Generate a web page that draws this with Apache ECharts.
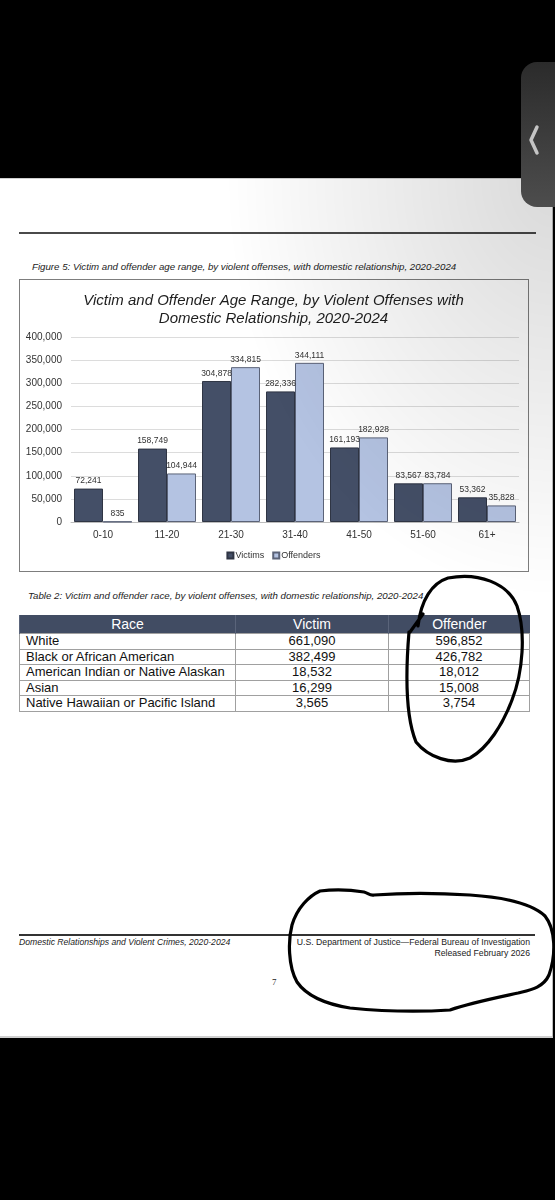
<!DOCTYPE html>
<html>
<head>
<meta charset="utf-8">
<script src="https://cdn.jsdelivr.net/npm/echarts@6/dist/echarts.min.js"></script>
<style>
  html, body { margin:0; padding:0; background:#000; width:555px; height:1200px; overflow:hidden; }
  body { position:relative; font-family:"Liberation Sans", Arial, sans-serif; }
  #page { position:absolute; left:0; top:178px; width:553px; height:860px; background:#fff; border-right:1.5px solid #bdbdbd; border-top:1px solid #cfcfcf; border-bottom:2px solid #cfcfcf; box-sizing:border-box; }
  .abs { position:absolute; }
  .cap { font-style:italic; color:#222; white-space:nowrap; }
  #box { position:absolute; left:19px; top:279px; width:510px; height:293px; border:1.5px solid #7d7d7d; box-sizing:border-box; background:#fff; }
  #chart { position:absolute; left:0; top:0; width:507px; height:290px; }
  #tbl { position:absolute; left:19px; top:615px; border-collapse:collapse; table-layout:fixed; width:510px; font-size:13px; color:#111; }
  #tbl th { background:#414c63; color:#fff; font-weight:normal; height:18px; padding:0; line-height:18px; font-size:14px; border-left:1px solid #5a647a; }
  #tbl td { height:14.6px; line-height:14.6px; padding:0; border:1px solid #a0a0a0; white-space:nowrap; overflow:hidden; }
  #tbl td.l { text-align:left; padding-left:6px; }
  #tbl td.c { text-align:center; }
  #shade { position:absolute; left:0; top:178px; width:555px; height:860px; pointer-events:none;
    background: radial-gradient(ellipse 330px 420px at 555px 0px, rgba(0,0,0,0.15), rgba(0,0,0,0) 100%); }
  #tab { position:absolute; left:521px; top:62px; width:40px; height:145px; border-radius:16px 0 0 16px;
    background:linear-gradient(#2b2b2b, #4d4d4d); }
  svg { position:absolute; left:0; top:0; }
</style>
</head>
<body>
<div id="page"></div>

<div class="abs" style="left:19px; top:232px; width:517px; height:1.5px; background:#4a4a4a;"></div>
<div class="abs cap" style="left:32px; top:261px; font-size:9.7px;">Figure 5: Victim and offender age range, by violent offenses, with domestic relationship, 2020-2024</div>

<div id="box"><div id="chart"></div></div>

<div class="abs cap" style="left:28px; top:590px; font-size:9.7px;">Table 2: Victim and offender race, by violent offenses, with domestic relationship, 2020-2024</div>
<table id="tbl">
  <colgroup><col style="width:216px"><col style="width:153px"><col style="width:141px"></colgroup>
  <thead><tr><th>Race</th><th>Victim</th><th>Offender</th></tr></thead>
  <tbody id="tbody"></tbody>
</table>

<div class="abs" style="left:19px; top:934px; width:516px; height:1.5px; background:#333;"></div>
<div class="abs cap" style="left:19px; top:937px; font-size:8.65px;">Domestic Relationships and Violent Crimes, 2020-2024</div>
<div class="abs" style="right:25px; top:937px; font-size:8.7px; color:#222; text-align:right; line-height:10.5px; white-space:nowrap;">U.S. Department of Justice—Federal Bureau of Investigation<br>Released February 2026</div>
<div class="abs" style="left:272px; top:977px; font-size:9px; font-family:'Liberation Serif', serif; color:#222;">7</div>

<div id="shade"></div>
<div id="tab"></div>

<svg width="555" height="1200" viewBox="0 0 555 1200">
  <path d="M537 127 L531 140 L537 153" fill="none" stroke="#c4c4c4" stroke-width="3.5" stroke-linecap="round" stroke-linejoin="round"/>
  <path d="M410 632 L423 614 M418 626 C421 600 432 583 448 578 C478 572 508 583 517 606 C526 632 523 672 512 700 C503 724 488 748 470 758 C452 766 428 757 416 742 C407 720 405 680 409 632"
        fill="none" stroke="#000" stroke-width="3.2" stroke-linecap="round" stroke-linejoin="round"/>
  <path d="M320 891 C335 889 352 890 364 892 C368 893 370 896 374 895 C400 893 440 893 470 895 C500 897 530 902 545 916 C556 930 556 955 549 975 C543 988 530 990 518 993 C495 998 470 1003 450 1010 C420 1012 380 1011 350 1008 C325 1004 306 995 297 982 C288 966 288 940 292 925 C297 908 309 896 320 891 Z"
        fill="none" stroke="#000" stroke-width="3.2" stroke-linecap="round" stroke-linejoin="round"/>
</svg>

<script>
// ---- chart data ----
const categories = ['0-10', '11-20', '21-30', '31-40', '41-50', '51-60', '61+'];
const victims    = [72241, 158749, 304878, 282336, 161193, 83567, 53362];
const offenders  = [835, 104944, 334815, 344111, 182928, 83784, 35828];
const seriesNames = ['Victims', 'Offenders'];
const yMin = 0, yMax = 400000, yStep = 50000;

// ---- table data ----
const races        = ['White', 'Black or African American', 'American Indian or Native Alaskan', 'Asian', 'Native Hawaiian or Pacific Island'];
const raceVictim   = [661090, 382499, 18532, 16299, 3565];
const raceOffender = [596852, 426782, 18012, 15008, 3754];

const fmt = v => Number(v).toLocaleString('en-US');

const tb = document.getElementById('tbody');
races.forEach((r, i) => {
  const tr = document.createElement('tr');
  tr.innerHTML = '<td class="l"></td><td class="c"></td><td class="c"></td>';
  tr.children[0].textContent = r;
  tr.children[1].textContent = fmt(raceVictim[i]);
  tr.children[2].textContent = fmt(raceOffender[i]);
  tb.appendChild(tr);
});

const chart = echarts.init(document.getElementById('chart'), null, { renderer: 'canvas' });
const labelCfg = {
  show: true, position: 'top', distance: 3, fontSize: 8.5, color: '#333',
  fontFamily: 'Liberation Sans', formatter: p => fmt(p.value)
};
chart.setOption({
  animation: false,
  backgroundColor: '#fff',
  title: {
    text: 'Victim and Offender Age Range, by Violent Offenses with\nDomestic Relationship, 2020-2024',
    left: 'center', top: 7,
    textStyle: { fontSize: 15, fontStyle: 'italic', fontWeight: 'normal', color: '#1e1e1e', lineHeight: 18, fontFamily: 'Liberation Sans', align: 'center' }
  },
  legend: {
    data: seriesNames, bottom: 5, left: 'center', itemWidth: 6, itemHeight: 6, itemGap: 8,
    icon: 'rect',
    textStyle: { fontSize: 9, color: '#333', fontFamily: 'Liberation Sans', padding: [0, 0, 0, -3] }
  },
  grid: { left: 51, top: 57, width: 448, height: 185 },
  xAxis: {
    type: 'category', data: categories,
    axisTick: { show: false },
    axisLine: { lineStyle: { color: '#bdbdbd' } },
    axisLabel: { fontSize: 10, color: '#333', margin: 8, fontFamily: 'Liberation Sans' }
  },
  yAxis: {
    type: 'value', min: yMin, max: yMax, interval: yStep,
    axisLine: { show: false }, axisTick: { show: false },
    splitLine: { lineStyle: { color: '#dcdcdc' } },
    axisLabel: { fontSize: 10, color: '#333', margin: 9, fontFamily: 'Liberation Sans', formatter: v => fmt(v) }
  },
  series: [
    { name: seriesNames[0], type: 'bar', data: victims, barWidth: 29, barGap: '0%',
      itemStyle: { color: '#444f67', borderColor: '#2f3544', borderWidth: 1 }, label: labelCfg },
    { name: seriesNames[1], type: 'bar', data: offenders, barWidth: 29,
      itemStyle: { color: '#b4c3e2', borderColor: '#5b6378', borderWidth: 1 }, label: labelCfg }
  ]
});
</script>
</body>
</html>
